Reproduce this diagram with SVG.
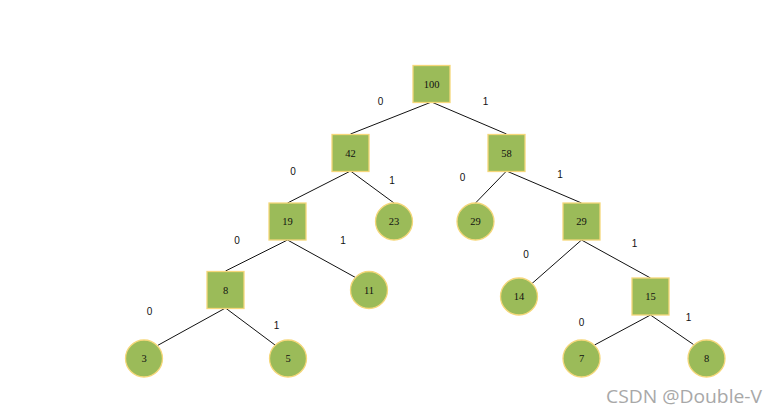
<svg xmlns="http://www.w3.org/2000/svg" width="777" height="415" viewBox="0 0 777 415">
<style>
.n rect,.n circle{fill:#9BBB59;stroke:#F5D77A;stroke-width:1.3}
.n text{font-family:"Liberation Serif",serif;font-size:10.5px;fill:#111;text-anchor:middle;dominant-baseline:central}
#edges line{stroke:#111;stroke-width:1}
.lbl{font-family:"Liberation Sans",sans-serif;font-size:10px;fill:#111;text-anchor:middle;dominant-baseline:central}
.wm{font-family:"Open Sans","Noto Sans",sans-serif;font-size:18px;fill:#A8A8A8}
</style>
<rect width="777" height="415" fill="#fff"/>
<g id="edges">
<line x1="431.5" y1="102" x2="350.5" y2="134"/>
<line x1="431.5" y1="102" x2="506.5" y2="134"/>
<line x1="350.5" y1="171" x2="287.5" y2="203"/>
<line x1="350.5" y1="171" x2="394" y2="203"/>
<line x1="287.5" y1="240" x2="225.5" y2="271"/>
<line x1="287.5" y1="240" x2="355.5" y2="277.5"/>
<line x1="225.5" y1="308" x2="157.5" y2="345.5"/>
<line x1="225.5" y1="308" x2="275" y2="345"/>
<line x1="506.5" y1="171" x2="475.5" y2="203"/>
<line x1="506.5" y1="171" x2="581.5" y2="203"/>
<line x1="581.5" y1="240" x2="532" y2="283.5"/>
<line x1="581.5" y1="240" x2="650.5" y2="278"/>
<line x1="650.5" y1="315" x2="594.5" y2="345"/>
<line x1="650.5" y1="315" x2="693.5" y2="344.5"/>
</g>
<g id="labels">
<text class="lbl" x="380.5" y="101.5">0</text>
<text class="lbl" x="485.5" y="101">1</text>
<text class="lbl" x="293" y="171">0</text>
<text class="lbl" x="392" y="180.5">1</text>
<text class="lbl" x="462.5" y="177">0</text>
<text class="lbl" x="560" y="174">1</text>
<text class="lbl" x="237" y="240">0</text>
<text class="lbl" x="343" y="240">1</text>
<text class="lbl" x="526" y="254">0</text>
<text class="lbl" x="634.5" y="243.5">1</text>
<text class="lbl" x="149.5" y="311">0</text>
<text class="lbl" x="276.5" y="325">1</text>
<text class="lbl" x="581.5" y="322.5">0</text>
<text class="lbl" x="688.5" y="317.5">1</text>
</g>
<g id="n100" class="n"><rect x="413" y="65.5" width="37" height="37"/><text x="431.5" y="84">100</text></g>
<g id="n42" class="n"><rect x="332" y="134.5" width="37" height="37"/><text x="350.5" y="153">42</text></g>
<g id="n58" class="n"><rect x="488" y="134.5" width="37" height="37"/><text x="506.5" y="153">58</text></g>
<g id="n19" class="n"><rect x="269" y="203" width="37" height="37"/><text x="287.5" y="221.5">19</text></g>
<g id="n23" class="n"><circle cx="394" cy="221.5" r="18.5"/><text x="394" y="221.5">23</text></g>
<g id="n29a" class="n"><circle cx="475.5" cy="221.5" r="18.5"/><text x="475.5" y="221.5">29</text></g>
<g id="n29b" class="n"><rect x="563" y="203" width="37" height="37"/><text x="581.5" y="221.5">29</text></g>
<g id="n8a" class="n"><rect x="207" y="271.5" width="37" height="37"/><text x="225.5" y="290">8</text></g>
<g id="n11" class="n"><circle cx="369" cy="290" r="18.5"/><text x="369" y="290">11</text></g>
<g id="n14" class="n"><circle cx="519" cy="296.5" r="18.5"/><text x="519" y="296.5">14</text></g>
<g id="n15" class="n"><rect x="632" y="278" width="37" height="37"/><text x="650.5" y="296.5">15</text></g>
<g id="n3" class="n"><circle cx="144" cy="358.5" r="18.5"/><text x="144" y="358.5">3</text></g>
<g id="n5" class="n"><circle cx="288" cy="358.5" r="18.5"/><text x="288" y="358.5">5</text></g>
<g id="n7" class="n"><circle cx="581.5" cy="358.5" r="18.5"/><text x="581.5" y="358.5">7</text></g>
<g id="n8b" class="n"><circle cx="706.5" cy="358.5" r="18.5"/><text x="706.5" y="358.5">8</text></g>
<text class="wm" x="606" y="403" textLength="156" lengthAdjust="spacingAndGlyphs">CSDN @Double-V</text>
</svg>
